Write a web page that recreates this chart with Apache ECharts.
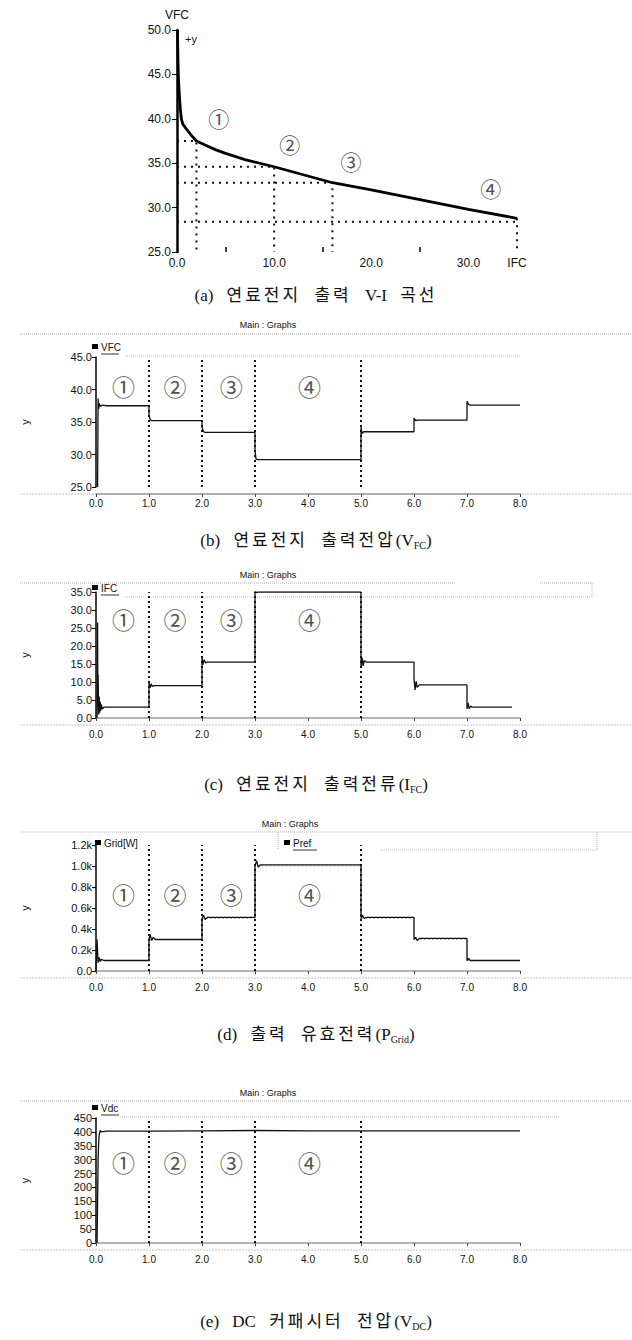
<!DOCTYPE html>
<html>
<head>
<meta charset="utf-8">
<script src="https://cdn.jsdelivr.net/npm/echarts@6/dist/echarts.min.js"></script>
<style>
html,body{margin:0;padding:0;background:#fff;}
#wrap{position:relative;width:632px;height:1340px;}
#c{position:absolute;left:0;top:0;width:632px;height:1340px;}
.cap{position:absolute;left:0;width:632px;text-align:center;height:22px;line-height:22px;
  font-family:"Liberation Serif","Noto Sans CJK KR",serif;font-size:17px;color:#111;
  word-spacing:9px;white-space:nowrap;}
.cap .k{letter-spacing:3px;}
.cap sub{font-size:10px;vertical-align:-3px;line-height:0;}
</style>
</head>
<body>
<div id="wrap">
<div id="c"></div>
<div class="cap" style="top:285px">(a) <span class="k">연료전지</span> <span class="k">출력</span> V-I <span class="k">곡선</span></div>
<div class="cap" style="top:530px">(b) <span class="k">연료전지</span> <span class="k">출력전압</span>(V<sub>FC</sub>)</div>
<div class="cap" style="top:774px">(c) <span class="k">연료전지</span> <span class="k">출력전류</span>(I<sub>FC</sub>)</div>
<div class="cap" style="top:1024px">(d) <span class="k">출력</span> <span class="k">유효전력</span>(P<sub>Grid</sub>)</div>
<div class="cap" style="top:1311px">(e) DC <span class="k">커패시터</span> <span class="k">전압</span>(V<sub>DC</sub>)</div>
</div>
<script>
// ---- (a) fuel cell V-I curve: [I (A), V (V)] ----
const viCurve = [[0.05,50.0],[0.1,46.5],[0.15,44.5],[0.25,42.5],[0.35,41.0],[0.45,40.0],[0.6,39.4],[1.0,38.8],[1.5,38.1],[2.0,37.5],[3.0,37.0],[4.0,36.5],[5.0,36.1],[7.0,35.4],[10.0,34.6],[13.0,33.7],[16.0,32.8],[20.0,32.0],[25.0,30.9],[30.0,29.8],[35.0,28.8]];
// operating points ①..④ : guide paths from the V axis to the curve and down to the I axis
const viGuides = [
  [[0,37.5],[2.0,37.5],[2.0,25]],
  [[0,34.6],[10.0,34.6],[10.0,25]],
  [[0,32.8],[16.0,32.8],[16.0,25]],
  [[0,28.4],[35.0,28.4]],
  [[35.0,28.8],[35.0,25]]
];
const viTags = [[4.3,40.1,'①'],[11.6,37.2,'②'],[17.9,35.3,'③'],[32.3,32.2,'④']];
const viXLabels = [0,10,20,30,35];
const viXTicks = [5,15,25];

// ---- time-domain traces: [t (s), value] ----
const stepTimes = [1,2,3,5];
const vfc = [[0.03,25],[0.04,38.6],[0.05,37.0],[0.06,37.9],[0.08,37.4],[0.12,37.6],[0.2,37.5],[1.0,37.5],[1.0,36.2],[1.02,35.4],[1.05,35.2],[2.0,35.2],[2.0,34.2],[2.03,33.5],[2.06,33.4],[3.0,33.4],[3.0,30.5],[3.02,29.3],[3.05,29.2],[5.0,29.2],[5.0,34.2],[5.02,33.2],[5.05,33.5],[6.0,33.5],[6.0,35.6],[6.03,35.2],[6.06,35.3],[7.0,35.3],[7.0,38.2],[7.03,37.7],[7.06,37.6],[8.0,37.6]];
const ifc = [[0.02,0],[0.03,26.5],[0.035,3],[0.04,12],[0.05,1],[0.06,6],[0.07,1.5],[0.08,4.5],[0.09,2],[0.1,3.8],[0.12,2.5],[0.15,3],[1.0,3],[1.0,9.8],[1.02,8.4],[1.04,9.5],[1.06,8.8],[1.1,9.0],[2.0,9.0],[2.0,16.8],[2.02,14.8],[2.04,16.2],[2.07,15.3],[2.1,15.5],[3.0,15.5],[3.0,35.5],[3.03,34.8],[3.06,35],[5.0,35],[5.0,14],[5.02,16.8],[5.04,14.5],[5.06,16],[5.1,15.5],[6.0,15.5],[6.0,11],[6.02,7.8],[6.04,10.2],[6.06,8.5],[6.1,9.2],[7.0,9.2],[7.0,2.5],[7.02,4.2],[7.04,2.6],[7.07,3.3],[7.1,3],[7.85,3]];
const pGrid = [[0.0,0],[0.02,300],[0.04,80],[0.06,130],[0.08,90],[0.1,110],[0.15,100],[1.0,100],[1.0,300],[1.02,350],[1.05,290],[1.08,320],[1.12,300],[2.0,300],[2.0,500],[2.03,530],[2.06,490],[2.1,510],[3.0,510],[3.0,1000],[3.03,1050],[3.06,990],[3.1,1010],[5.0,1010],[5.0,500],[5.03,530],[5.06,500],[5.1,510],[6.0,510],[6.0,300],[6.03,320],[6.06,290],[6.1,310],[7.0,310],[7.0,100],[7.03,120],[7.06,100],[8.0,100]];
const pRef = [[0,100],[1,100],[1,300],[2,300],[2,500],[3,500],[3,1000],[5,1000],[5,500],[6,500],[6,300],[7,300],[7,100],[8,100]];
const vdc = [[0.02,0],[0.03,150],[0.04,300],[0.05,360],[0.06,390],[0.08,405],[0.1,400],[0.2,403],[1.0,403],[2.0,404],[3.0,405],[4.0,404],[8.0,404]];

const tagsB = [[0.52,40.6,'①'],[1.49,40.6,'②'],[2.55,40.6,'③'],[4.03,40.6,'④']];
const tagsC = [[0.52,27.5,'①'],[1.49,27.5,'②'],[2.55,27.5,'③'],[4.03,27.5,'④']];
const tagsD = [[0.52,730,'①'],[1.49,730,'②'],[2.55,730,'③'],[4.03,730,'④']];
const tagsE = [[0.52,290,'①'],[1.49,290,'②'],[2.55,290,'③'],[4.03,290,'④']];

const SANS = 'Liberation Sans, Arial, sans-serif';
const CJK = 'Noto Sans CJK KR';

const grids = [
  {left:177, top:30, width:340, height:222},
  {left:96, top:357, width:424, height:130},
  {left:96, top:592, width:424, height:126},
  {left:96, top:845, width:424, height:126},
  {left:96, top:1118, width:424, height:125}
].map(g => Object.assign({outerBoundsMode:'none', containLabel:false}, g));

function timeAxis(i){
  return {
    gridIndex:i, type:'value', min:0, max:8, interval:1, offset:7,
    axisLine:{show:true, lineStyle:{color:'#9a9a9a', width:1.5}},
    axisTick:{show:true, length:3, lineStyle:{color:'#444'}},
    axisLabel:{formatter:v=>v.toFixed(1), fontSize:10, color:'#111', margin:4, fontFamily:SANS},
    splitLine:{show:false}
  };
}
function valueAxis(i, min, max, step, fmt){
  return {
    gridIndex:i, type:'value', min:min, max:max, interval:step,
    name:'y', nameLocation:'middle', nameGap:66, nameRotate:90,
    nameTextStyle:{fontSize:11, color:'#111', fontFamily:SANS},
    axisLine:{show:true, lineStyle:{color:'#000', width:1.5}},
    axisTick:{show:true, length:4, lineStyle:{color:'#000'}},
    axisLabel:{formatter:fmt, fontSize:11, color:'#111', margin:4, fontFamily:SANS},
    splitLine:{show:false}
  };
}
function trace(name, i, data, extra){
  return Object.assign({
    name:name, type:'line', xAxisIndex:i, yAxisIndex:i, data:data,
    symbol:'none', animation:false, z:3,
    lineStyle:{color:'#111', width:1.3}
  }, extra || {});
}
function stepMarks(){
  return {
    symbol:'none', silent:true, animation:false, label:{show:false},
    lineStyle:{color:'#111', type:[2,3], width:2},
    data: stepTimes.map(t => ({xAxis:t}))
  };
}
function tags(i, data, size){
  return {
    type:'scatter', xAxisIndex:i, yAxisIndex:i, data:data, symbolSize:1,
    itemStyle:{color:'rgba(0,0,0,0)'}, silent:true, animation:false, z:5,
    label:{show:true, position:'inside', formatter:p=>p.data[2],
      fontSize:size, color:'#222', fontFamily:CJK}
  };
}

const xAxes = [
  {
    gridIndex:0, type:'value', min:0, max:35,
    axisLine:{show:false},
    axisTick:{show:true, inside:true, length:5, customValues:viXTicks, lineStyle:{color:'#000', width:1.5}},
    axisLabel:{customValues:viXLabels, formatter:v=> v===35 ? 'IFC' : v.toFixed(1),
      fontSize:12, color:'#111', margin:5, fontFamily:SANS},
    splitLine:{show:false}
  },
  timeAxis(1), timeAxis(2), timeAxis(3), timeAxis(4)
];
const yAxes = [
  {
    gridIndex:0, type:'value', min:25, max:50, interval:5,
    name:'VFC', nameLocation:'end', nameGap:9,
    nameTextStyle:{fontSize:12, color:'#111', fontFamily:SANS, align:'center'},
    axisLine:{show:true, lineStyle:{color:'#000', width:2.5}},
    axisTick:{show:true, length:5, lineStyle:{color:'#000', width:1}},
    axisLabel:{formatter:v=>v.toFixed(1), fontSize:12, color:'#111', margin:6, fontFamily:SANS},
    splitLine:{show:false}
  },
  valueAxis(1, 25, 45, 5, v=>v.toFixed(1)),
  valueAxis(2, 0, 35, 5, v=>v.toFixed(1)),
  valueAxis(3, 0, 1200, 200, v=> v===0 ? '0.0' : (v/1000).toFixed(1)+'k'),
  valueAxis(4, 0, 450, 50, v=>String(v))
];

const series = [
  trace('VFC-IFC', 0, viCurve, {lineStyle:{color:'#000', width:2.8}}),
  ...viGuides.map((g,k) => ({
    name:'guide'+k, type:'line', xAxisIndex:0, yAxisIndex:0, data:g, symbol:'none',
    animation:false, silent:true, z:2, lineStyle:{color:'#111', type:[2,5], width:2}
  })),
  tags(0, viTags, 21),
  trace('VFC', 1, vfc, {markLine:stepMarks()}),
  tags(1, tagsB, 23),
  trace('IFC', 2, ifc, {markLine:stepMarks()}),
  tags(2, tagsC, 23),
  trace('Pref', 3, pRef, {z:2, lineStyle:{color:'#bbb', width:1.2, type:[2,2]}}),
  trace('Grid[W]', 3, pGrid, {markLine:stepMarks()}),
  tags(3, tagsD, 23),
  trace('Vdc', 4, vdc, {markLine:stepMarks()}),
  tags(4, tagsE, 23)
];

// ---- frame decorations and legends ----
const G = [];
function txt(x, y, text, size, family, extra){
  G.push({type:'text', x:x, y:y, silent:true,
    style:Object.assign({text:text, fontSize:size, fontFamily:family, fill:'#111', align:'center', verticalAlign:'middle'}, extra||{})});
}
function dline(x1, y1, x2, y2, color, dash, w){
  G.push({type:'line', silent:true, shape:{x1:x1,y1:y1,x2:x2,y2:y2},
    style:{stroke:color||'#aaa', lineWidth:w||1, lineDash:dash||[1,1]}});
}
function legendItem(x, y, label, underline){
  G.push({type:'rect', silent:true, shape:{x:x, y:y-3, width:6, height:5}, style:{fill:'#000'}});
  txt(x+9, y, label, 10, SANS, {align:'left'});
  if (underline){
    const w = label.length * 6;
    G.push({type:'line', silent:true, shape:{x1:x+9, y1:y+7, x2:x+9+w, y2:y+7}, style:{stroke:'#333', lineWidth:1}});
  }
}

// (a)
txt(191, 39, '+y', 11, SANS);

// (b)
txt(268, 325, 'Main : Graphs', 9, SANS);
dline(20, 334, 632, 334, '#b0b0b0');
dline(125, 356, 520, 356, '#c0c0c0');
legendItem(92, 347, 'VFC', true);
dline(20, 494, 632, 494, '#c4c4c4', [2,1], 1);

// (c)
txt(268, 575, 'Main : Graphs', 9, SANS);
dline(20, 583, 455, 583, '#b0b0b0');
dline(540, 583, 592, 583, '#b0b0b0');
dline(592, 583, 592, 597, '#b0b0b0');
dline(125, 597, 592, 597, '#c0c0c0');
legendItem(92, 588, 'IFC', true);
dline(20, 725, 632, 725, '#c4c4c4', [2,1], 1);

// (d)
txt(290, 824, 'Main : Graphs', 9, SANS);
dline(20, 832, 632, 832, '#b0b0b0');
dline(278, 832, 278, 850, '#b0b0b0');
dline(597, 832, 597, 850, '#b0b0b0');
dline(380, 850, 597, 850, '#c0c0c0');
legendItem(95, 843, 'Grid[W]', false);
legendItem(284, 843, 'Pref', true);
dline(20, 978, 632, 978, '#c4c4c4', [2,1], 1);

// (e)
txt(268, 1093, 'Main : Graphs', 9, SANS);
dline(20, 1101, 632, 1101, '#b0b0b0');
dline(120, 1117, 560, 1117, '#c0c0c0');
legendItem(92, 1108, 'Vdc', true);
dline(20, 1250, 632, 1250, '#c4c4c4', [2,1], 1);

const chart = echarts.init(document.getElementById('c'), null, {renderer:'svg', width:632, height:1340});
chart.setOption({
  animation:false,
  backgroundColor:'transparent',
  grid:grids,
  xAxis:xAxes,
  yAxis:yAxes,
  series:series,
  graphic:G
});
</script>
</body>
</html>
